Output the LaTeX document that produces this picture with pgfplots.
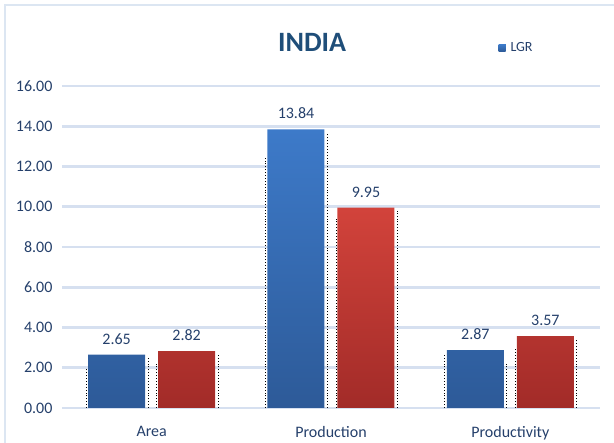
\documentclass[border=0pt]{standalone}
\usepackage{fontspec}
\setmainfont{Carlito}
\usepackage{pgfplots}
\pgfplotsset{compat=1.18}
\definecolor{gridc}{HTML}{D6E0F0}
\definecolor{framec}{HTML}{DCE6F2}
\definecolor{txtc}{HTML}{25406B}
\definecolor{titlec}{HTML}{1F4E79}
\definecolor{bluetop}{HTML}{3D7AC9}
\definecolor{bluebot}{HTML}{2D5A98}
\definecolor{redtop}{HTML}{D2433B}
\definecolor{redbot}{HTML}{A22B28}
\pgfplotsset{
  lbl/.style={nodes near coords, nodes near coords style={font=\fontsize{16}{18}\selectfont, text=txtc, anchor=south, yshift=7pt, xshift=#1,
     /pgf/number format/fixed, /pgf/number format/fixed zerofill, /pgf/number format/precision=2, /pgf/number format/assume math mode=true}},
  shadow/.style={ycomb, black, dotted, line width=0.9pt, mark=none, forget plot},
}
\begin{document}
\begin{tikzpicture}[x=1pt,y=1pt]
\path[use as bounding box] (0,0) rectangle (614,443);
\draw[framec, line width=1.2pt] (5,0) -- (5,438) -- (614,438);
\begin{axis}[
  at={(62pt,35pt)}, anchor=south west,
  scale only axis, width=538pt, height=322pt,
  xmin=-0.5, xmax=2.5, ymin=0, ymax=16,
  xtick={0,1,2}, xticklabels={Area,Production,Productivity},
  ytick={0,2,...,16},
  axis line style={draw=none},
  major tick length=0pt,
  ymajorgrids, grid style={gridc, line width=2.6pt},
  /pgf/number format/assume math mode=true,
  yticklabel={\pgfmathprintnumber[fixed,fixed zerofill,precision=2]{\tick}},
  ticklabel style={font=\fontsize{16}{18}\selectfont, text=txtc},
  yticklabel style={anchor=east, xshift=-6pt},
  xticklabel style={anchor=north, yshift=-15pt},
  legend style={at={(0.811,1.118)}, anchor=west, draw=none, fill=none, font=\fontsize{14}{16}\selectfont, text=txtc, inner sep=0pt},
  legend image code/.code={\fill[bluetop] (0pt,-3.5pt) rectangle (7pt,3.5pt); \path (10pt,0pt);},
  clip=false,
]
% dotted shadow edges (right and left of each bar)
\addplot[shadow] coordinates {(-0.0195,2.55) (0.9805,13.6) (1.9805,2.3)};
\addplot[shadow] coordinates {(0.371,2.7) (1.371,9.8) (2.371,3.4)};
\addplot[shadow] coordinates {(-0.365,2.0) (0.635,12.5) (1.635,2.7)};
\addplot[shadow] coordinates {(0.028,2.3) (1.028,9.5) (2.028,3.0)};
\addplot[ybar, bar width=57pt, bar shift=-35pt, draw=none, top color=bluetop, bottom color=bluebot, lbl=-35pt]
  coordinates {(0,2.65) (1,13.84) (2,2.87)};
\addlegendentry{LGR}
\addplot[ybar, bar width=57pt, bar shift=35pt, draw=none, top color=redtop, bottom color=redbot, forget plot, lbl=35pt]
  coordinates {(0,2.82) (1,9.95) (2,3.57)};
\node[font=\bfseries\fontsize{28}{32}\selectfont, text=titlec] at (axis description cs:0.465,1.136) {INDIA};
\end{axis}
\end{tikzpicture}
\end{document}
